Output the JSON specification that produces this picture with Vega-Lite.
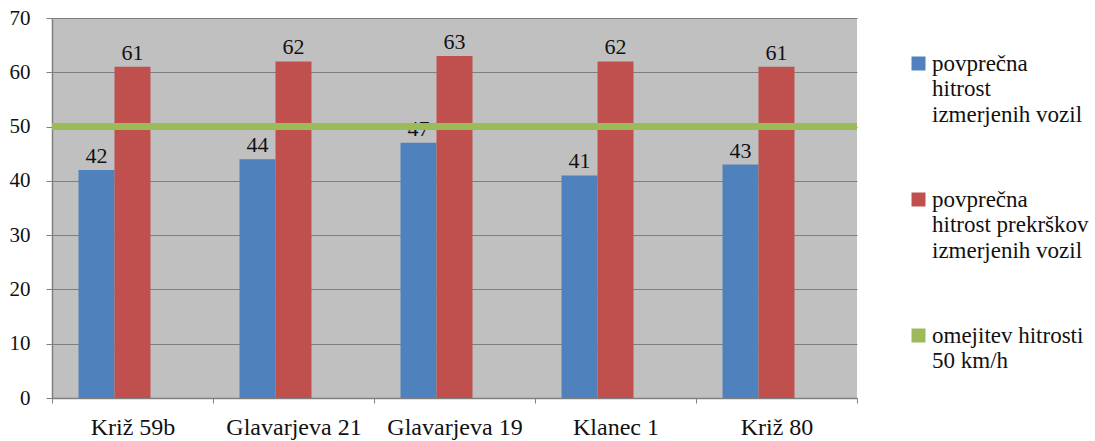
{
  "$schema": "https://vega.github.io/schema/vega-lite/v6.json",
  "autosize": {"type": "none"},
  "width": 805,
  "height": 380,
  "padding": {"left": 52, "top": 18, "right": 238, "bottom": 43},
  "background": "white",
  "config": {
    "view": {"fill": "#c0c0c0", "stroke": null},
    "font": "Liberation Serif",
    "axis": {
      "labelFont": "Liberation Serif",
      "labelColor": "#111111",
      "domainColor": "#7f7f7f",
      "tickColor": "#7f7f7f",
      "gridColor": "#7f7f7f",
      "title": null
    }
  },
  "data": {
    "values": [
      {"lokacija": "Križ 59b", "serija": "povprečna hitrost izmerjenih vozil", "hitrost": 42},
      {"lokacija": "Križ 59b", "serija": "povprečna hitrost prekrškov izmerjenih vozil", "hitrost": 61},
      {"lokacija": "Glavarjeva 21", "serija": "povprečna hitrost izmerjenih vozil", "hitrost": 44},
      {"lokacija": "Glavarjeva 21", "serija": "povprečna hitrost prekrškov izmerjenih vozil", "hitrost": 62},
      {"lokacija": "Glavarjeva 19", "serija": "povprečna hitrost izmerjenih vozil", "hitrost": 47},
      {"lokacija": "Glavarjeva 19", "serija": "povprečna hitrost prekrškov izmerjenih vozil", "hitrost": 63},
      {"lokacija": "Klanec 1", "serija": "povprečna hitrost izmerjenih vozil", "hitrost": 41},
      {"lokacija": "Klanec 1", "serija": "povprečna hitrost prekrškov izmerjenih vozil", "hitrost": 62},
      {"lokacija": "Križ 80", "serija": "povprečna hitrost izmerjenih vozil", "hitrost": 43},
      {"lokacija": "Križ 80", "serija": "povprečna hitrost prekrškov izmerjenih vozil", "hitrost": 61},
      {"lokacija": null, "serija": "omejitev hitrosti 50 km/h", "hitrost": 50}
    ]
  },
  "encoding": {
    "x": {
      "field": "lokacija",
      "type": "nominal",
      "sort": ["Križ 59b", "Glavarjeva 21", "Glavarjeva 19", "Klanec 1", "Križ 80"],
      "scale": {"domain": ["Križ 59b", "Glavarjeva 21", "Glavarjeva 19", "Klanec 1", "Križ 80"], "paddingInner": 0, "paddingOuter": 0},
      "axis": {"labelAngle": 0, "tickBand": "extent", "tickSize": 5, "labelPadding": 12, "labelFontSize": 24, "domainWidth": 1.5}
    },
    "y": {
      "field": "hitrost",
      "type": "quantitative",
      "scale": {"domain": [0, 70], "nice": false},
      "axis": {"values": [0, 10, 20, 30, 40, 50, 60, 70], "tickSize": 6, "labelPadding": 16, "labelFontSize": 21, "gridWidth": 1.2, "domainWidth": 1.5}
    }
  },
  "layer": [
    {
      "transform": [{"filter": "datum.lokacija != null"}],
      "mark": {"type": "bar"},
      "encoding": {
        "xOffset": {
          "field": "serija",
          "scale": {"domain": ["povprečna hitrost izmerjenih vozil", "povprečna hitrost prekrškov izmerjenih vozil", "omejitev hitrosti 50 km/h"], "paddingInner": 0, "paddingOuter": 0.736}
        },
        "color": {
          "field": "serija",
          "type": "nominal",
          "scale": {
            "domain": ["povprečna hitrost izmerjenih vozil", "povprečna hitrost prekrškov izmerjenih vozil", "omejitev hitrosti 50 km/h"],
            "range": ["#4f81bd", "#c0504d", "#9bbb59"]
          },
          "legend": {
            "orient": "none",
            "legendX": 855,
            "legendY": 34,
            "title": null,
            "padding": 0,
            "symbolType": "square",
            "symbolSize": 196,
            "symbolStrokeWidth": 0,
            "labelFont": "Liberation Serif",
            "labelFontSize": 23,
            "labelColor": "#111111",
            "labelLimit": 0,
            "labelOffset": 2,
            "labelBaseline": "alphabetic",
            "rowPadding": 61,
            "gridAlign": "all",
            "labelExpr": "datum.label == 'povprečna hitrost izmerjenih vozil' ? ['povprečna', 'hitrost', 'izmerjenih vozil'] : datum.label == 'povprečna hitrost prekrškov izmerjenih vozil' ? ['povprečna', 'hitrost prekrškov', 'izmerjenih vozil'] : ['omejitev hitrosti', '50 km/h']",
            "encode": {"labels": {"update": {"lineHeight": {"value": 25.5}, "dy": {"value": 7}}}}
          }
        }
      }
    },
    {
      "transform": [{"filter": "datum.lokacija != null"}],
      "mark": {"type": "text", "baseline": "alphabetic", "dy": -7, "fontSize": 22, "font": "Liberation Serif", "color": "#111111"},
      "encoding": {
        "xOffset": {
          "field": "serija",
          "scale": {"domain": ["povprečna hitrost izmerjenih vozil", "povprečna hitrost prekrškov izmerjenih vozil", "omejitev hitrosti 50 km/h"], "paddingInner": 0, "paddingOuter": 0.736}
        },
        "text": {"field": "hitrost", "type": "quantitative"}
      }
    },
    {
      "transform": [{"filter": "datum.lokacija == null"}],
      "mark": {"type": "rule", "strokeWidth": 7, "color": "#9bbb59"},
      "encoding": {
        "x": null,
        "y": {"field": "hitrost", "type": "quantitative"}
      }
    }
  ]
}
